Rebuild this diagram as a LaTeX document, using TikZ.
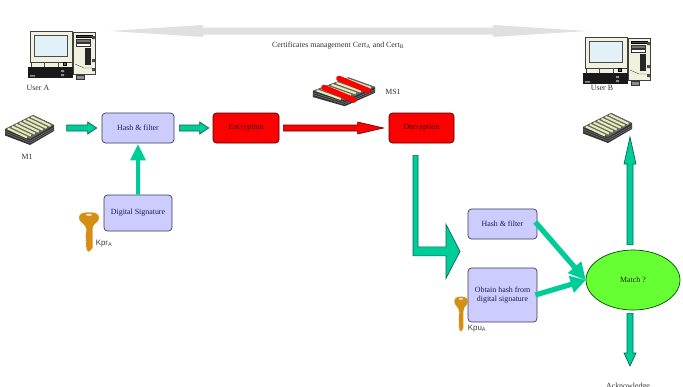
\documentclass[tikz,border=0pt]{standalone}
\usepackage{fontspec}
\setmainfont{Liberation Serif}
\newfontfamily\keyfont{Liberation Sans}
\usetikzlibrary{calc,shapes.geometric}

\definecolor{boxblue}{HTML}{CCCCFF}
\definecolor{boxedge}{HTML}{3A3A5C}
\definecolor{boxtext}{HTML}{1C1C50}
\definecolor{arrowgreen}{HTML}{00CC99}
\definecolor{arrowedge}{HTML}{006B50}
\definecolor{matchgreen}{HTML}{66FF33}
\definecolor{keygold}{HTML}{D48E14}
\definecolor{cream}{HTML}{F1F1DF}
\definecolor{screenblue}{HTML}{E2F1F8}
\definecolor{stripe}{HTML}{E6EDB4}
\definecolor{haze}{HTML}{E0E0E0}

\tikzset{
  txt/.style={font=\fontsize{7.9}{9}\selectfont, inner sep=0pt, text=black!80},
  keytxt/.style={font=\keyfont\fontsize{7.9}{9}\selectfont, inner sep=0pt, text=black!75},
  procbox/.style={rectangle, rounded corners=3.5pt, draw=boxedge, fill=boxblue, line width=.7pt,
    inner sep=0pt, align=center, text=boxtext, font=\fontsize{7.9}{9.6}\selectfont},
  cipherbox/.style={procbox, draw=black!70!red, fill=red, text=black!80!red},
  matchnode/.style={ellipse, draw=black!70!green, fill=matchgreen, line width=.7pt, inner sep=0pt,
    font=\fontsize{7.9}{9}\selectfont, text=black!85},
  icon/.style={rectangle, inner sep=0pt},
  greenflow/.style={fill=arrowgreen, draw=arrowedge, line width=.7pt, line join=miter},
  redflow/.style={fill=red, draw=black!60!red, line width=.6pt},
  plainflow/.style={fill=arrowgreen, draw=none},
  hazeflow/.style={fill=haze, draw=none}
}

% block arrow: #1 style, #2 start, #3 tip, #4 half shaft, #5 half head, #6 head length
\newcommand{\blockarrow}[6]{%
  \coordinate (S) at #2;
  \coordinate (E) at #3;
  \coordinate (H) at ($(E)!#6!(S)$);
  \path[#1] ($(S)!#4!90:(E)$) -- ($(H)!#4!-90:(S)$) -- ($(H)!#5!-90:(S)$) -- (E)
    -- ($(H)!#5!90:(S)$) -- ($(H)!#4!90:(S)$) -- ($(S)!#4!-90:(E)$) -- cycle;
}

% desktop computer, drawn around its own origin
\newcommand{\computer}[2]{%
  \begin{scope}[shift={(#1,#2)}]
    \filldraw[fill=cream, draw=black!75, line width=.6pt] (73,32) rectangle (95,74);
    \filldraw[fill=black!70, draw=black] (76,35) rectangle (92,37);
    \filldraw[fill=black!55, draw=black!80, line width=.3pt] (76,39.5) rectangle (90,42);
    \filldraw[fill=white, draw=black!80, line width=.3pt] (76,43.5) rectangle (90,46);
    \fill[black!85] (84.5,48) rectangle (91,65);
    \fill[black!70] (92,36) rectangle (95,39) (92,59) rectangle (95,62) (92,68) rectangle (95,71);
    \draw[black!70, line width=.4pt] (75,64) -- (84,68) -- (92,68);
    \filldraw[fill=cream, draw=black!75, line width=.6pt] (30,31) rectangle (72,62);
    \filldraw[fill=screenblue, draw=black!70, line width=.9pt] (34.5,35) rectangle (67,56);
    \filldraw[fill=cream, draw=black!75, line width=.5pt] (31,62) rectangle (72,67);
    \draw[black!70, line width=.4pt] (44,62) -- (44,67) (58,62) -- (58,67);
    \filldraw[fill=black!60, draw=black] (63,62.5) rectangle (66,65.5);
    \fill[black!90] (28,67) rectangle (73,78);
    \fill[black!45] (30,75) rectangle (35,76.5) (61,70) rectangle (64,72) (61,74) rectangle (64,76);
    \filldraw[fill=black!45, draw=black!80, line width=.3pt] (76,75.5) rectangle (84,79);
  \end{scope}%
}

% stack of paper seen from above; the stripes run along the long edge
\newcommand{\paperstack}[4]{%
  \begin{scope}[shift={(#1,#2)}, xscale=#3, yscale=#4]
    \fill[black!80] (5,129) -- (33,115) -- (54,125) -- (54,131) -- (30,145) -- (5,135.5) -- cycle;
    \draw[black!35, line width=.25pt] (5,131) -- (30,141) -- (54,127.5) (5,133) -- (30,143) -- (54,129.5);
    \fill[black!60] (5,129) -- (33,115) -- (54,125) -- (30,139) -- cycle;
    \foreach \s in {.07,.21,.35,.49,.63,.77,.91}
      \draw[stripe, line width=2pt]
        ($(5,129)!\s!(33,115)+(1,.5)$) -- ($(5,129)!\s!(33,115)+(20,9.5)$);
  \end{scope}%
}

% key hanging with its bow on top
\newcommand{\brasskey}[4]{%
  \begin{scope}[shift={(#1,#2)}, xscale=#3, yscale=#4]
    \fill[keygold] (-7,-6.5) .. controls (-3,-8) and (3,-8) .. (7,-6.5)
      .. controls (11,-5) and (11,1) .. (7,3.5) .. controls (5,5) and (3.5,7) .. (3.5,11)
      -- (3.5,30) -- (0,34) -- (-2.5,32) -- (-2.5,29) -- (-3.5,28) -- (-2.5,26.5) -- (-3.5,25)
      -- (-2.5,23.5) -- (-3.5,22) -- (-2.5,20.5) -- (-3.5,19) -- (-2.5,11)
      .. controls (-3,7) and (-5,5) .. (-7,3.5) .. controls (-11,1) and (-11,-5) .. (-7,-6.5) -- cycle;
    \fill[white!70!keygold] (0,-5) ellipse (3.2 and 1.3);
  \end{scope}%
}

\begin{document}
\begin{tikzpicture}[x=1pt, y=-1pt]
  \useasboundingbox (0,0) rectangle (683,386);
  \fill[white] (0,0) rectangle (683,386);
  \clip (0,0) rectangle (683,386);

  % workstations and documents
  \computer{0}{0}
  \computer{555}{6}
  \paperstack{0}{0}{1}{1}
  \paperstack{578}{-2}{1}{1}
  \paperstack{306.6}{-33}{1.27}{.96}
  \draw[red, line width=5.5pt, line cap=round] (324,87.5) -- (354,100);
  \draw[red, line width=5.5pt, line cap=round] (339,78.5) -- (368,90.5);
  \brasskey{89}{219.5}{1}{.95}
  \brasskey{461}{303}{.66}{.84}

  % icon anchors
  \node[icon, minimum width=49pt, minimum height=30pt] (m1) at (29.5,128) {};

  % process boxes
  \node[procbox, minimum width=72pt, minimum height=30pt] (hash1) at (138,128) {Hash \& filter};
  \node[cipherbox, minimum width=66pt, minimum height=30pt] (enc) at (246,128) {Encryption};
  \node[cipherbox, minimum width=65pt, minimum height=30pt] (dec) at (421.5,128) {Decryption};
  \node[procbox, minimum width=68pt, minimum height=36pt] (sig) at (138,213) {Digital Signature};
  \node[procbox, minimum width=69pt, minimum height=30pt] (hash2) at (502.5,224) {Hash \& filter};
  \node[procbox, minimum width=69pt, minimum height=54pt] (obtain) at (502.5,295) {Obtain hash from\\digital signature};
  \node[matchnode, minimum width=94pt, minimum height=60pt] (match) at (633,280) {Match ?};

  % labels
  \node[txt] (usera) at (38,88) {User A};
  \node[txt] (userb) at (602,88) {User B};
  \node[txt] (m1lab) at (27,157) {M1};
  \node[txt] (mslab) at (393,92) {MS1};
  \node[txt] (certs) at (338,46) {Certificates management Cert\textsubscript{A} and Cert\textsubscript{B}};
  \node[keytxt] (kpr) at (104,243.5) {Kpr\textsubscript{A}};
  \node[keytxt] (kpu) at (477,328.5) {Kpu\textsubscript{A}};
  \node[txt, anchor=base] (ack) at (628,388.5) {Acknowledge};

  % free ends of connectors
  \coordinate (certl) at (110,31);
  \coordinate (certr) at (587,31);
  \coordinate (certm) at (348,31);
  \coordinate (stacktip) at (630,137);
  \coordinate (ackend) at (630,366);
  \coordinate (bendstart) at ([xshift=-6pt,yshift=-12pt]dec.south);

  % certificate exchange
  \blockarrow{hazeflow}{(certm)}{(certl)}{3.5pt}{6pt}{93pt}
  \blockarrow{hazeflow}{(certm)}{(certr)}{3.5pt}{6pt}{94pt}

  % signing path
  \blockarrow{greenflow}{([xshift=12.5pt]m1.east)}{([xshift=-5pt]hash1.west)}{3pt}{6pt}{9pt}
  \blockarrow{greenflow}{([xshift=5pt]hash1.east)}{([xshift=-4pt]enc.west)}{3pt}{6pt}{9pt}
  \blockarrow{redflow}{([xshift=4pt]enc.east)}{([xshift=-5pt]dec.west)}{3pt}{6pt}{26pt}
  \blockarrow{plainflow}{(sig.north)}{([yshift=-1pt]hash1.south)}{2pt}{8pt}{16pt}

  % decrypted message turns towards both checks
  \path[greenflow] ([xshift=-2.5pt]bendstart) -- ([xshift=2.5pt]bendstart) -- ++(0,91.5) -- ++(28,0)
    -- ++(0,-22.5) -- ++(14,27) -- ++(-14,27) -- ++(0,-22.5) -- ++(-33,0) -- cycle;

  % verification
  \blockarrow{plainflow}{([xshift=-2pt,yshift=2pt]hash2.east)}{(match.west)}{2.6pt}{9pt}{17pt}
  \blockarrow{plainflow}{([xshift=-2pt]obtain.east)}{(match.west)}{2.6pt}{9pt}{15pt}
  \blockarrow{greenflow}{([xshift=-3pt,yshift=5pt]match.north)}{(stacktip)}{3pt}{6pt}{27pt}
  \blockarrow{greenflow}{([xshift=-3pt,yshift=-3pt]match.south)}{(ackend)}{3pt}{6pt}{13pt}
\end{tikzpicture}
\end{document}
